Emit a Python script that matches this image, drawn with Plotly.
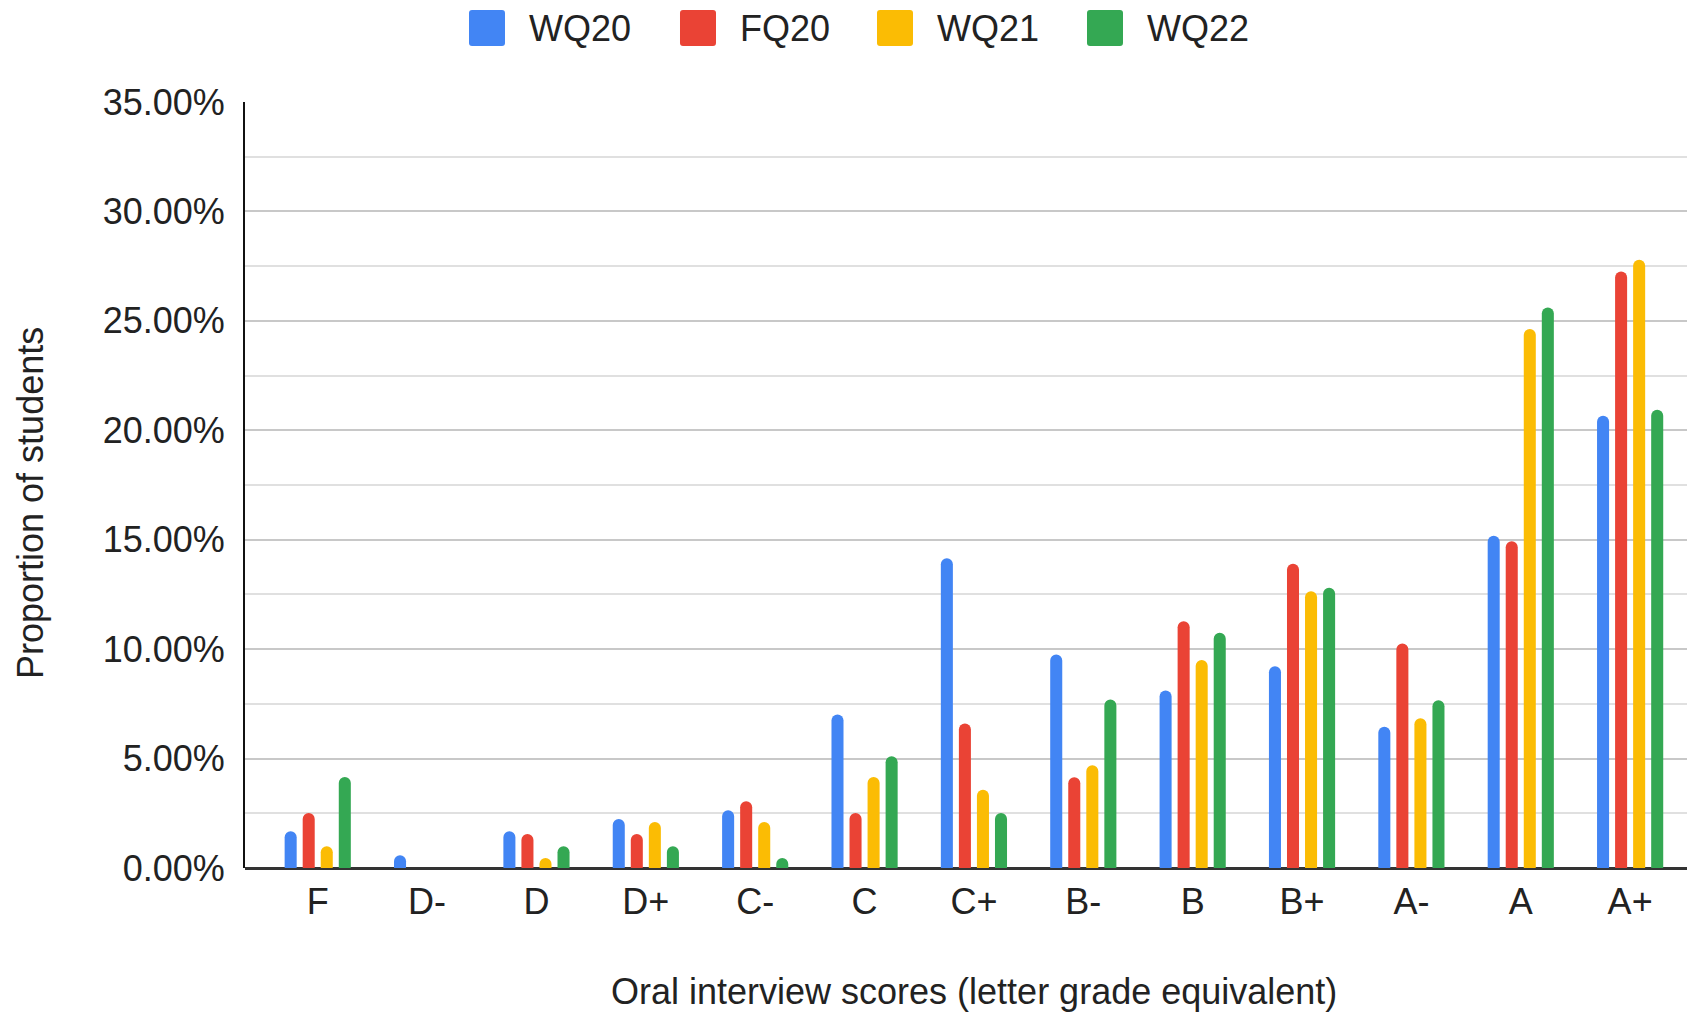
import plotly.graph_objects as go

grades = ["F", "D-", "D", "D+", "C-", "C", "C+", "B-", "B", "B+", "A-", "A", "A+"]
wq20 = [1.68, 0.58, 1.68, 2.24, 2.64, 7.01, 14.15, 9.76, 8.11, 9.22, 6.45, 15.18, 20.66]
fq20 = [2.51, 0.0, 1.55, 1.55, 3.05, 2.51, 6.60, 4.15, 11.28, 13.90, 10.26, 14.93, 27.26]
wq21 = [0.99, 0.0, 0.46, 2.10, 2.10, 4.16, 3.58, 4.70, 9.50, 12.65, 6.84, 24.63, 27.79]
wq22 = [4.16, 0.0, 0.99, 0.99, 0.46, 5.11, 2.51, 7.70, 10.75, 12.80, 7.66, 25.61, 20.94]

series_names = ["WQ20", "FQ20", "WQ21", "WQ22"]
series_values = [wq20, fq20, wq21, wq22]
colors = ["#4285F4", "#EA4335", "#FBBC04", "#34A853"]

W, H = 1687, 1016
ML, MR, MT, MB = 245, 0, 102, 148
PW, PH = W - ML - MR, H - MT - MB
FONT = "Arial, Liberation Sans, sans-serif"


def px_x(p):
    return (p - ML) / PW


def px_y(p):
    return (H - MB - p) / PH


def rounded_rect(x0, y0, x1, y1, r):
    # pixel coords -> paper path with rounded corners
    pts = [
        ("M", [(x0 + r, y0)]), ("L", [(x1 - r, y0)]), ("Q", [(x1, y0), (x1, y0 + r)]),
        ("L", [(x1, y1 - r)]), ("Q", [(x1, y1), (x1 - r, y1)]), ("L", [(x0 + r, y1)]),
        ("Q", [(x0, y1), (x0, y1 - r)]), ("L", [(x0, y0 + r)]), ("Q", [(x0, y0), (x0 + r, y0)]),
    ]
    s = ""
    for cmd, coords in pts:
        s += cmd + " " + " ".join(f"{px_x(a):.6f},{px_y(b):.6f}" for a, b in coords) + " "
    return s + "Z"


fig = go.Figure()
for name, vals, c in zip(series_names, series_values, colors):
    fig.add_trace(go.Bar(
        x=grades, y=[v / 100 for v in vals], name=name,
        marker=dict(color=c, cornerradius=6, line=dict(width=0)),
        showlegend=False,
    ))

# custom legend (large rounded squares like the reference)
legend_sq_x = [469, 680, 877, 1087]
shapes = []
annotations = []
for name, c, sx in zip(series_names, colors, legend_sq_x):
    shapes.append(dict(type="path", xref="paper", yref="paper",
                       path=rounded_rect(sx, 10, sx + 36, 46, 3),
                       fillcolor=c, line=dict(width=0), layer="above"))
    annotations.append(dict(text=name, xref="paper", yref="paper", x=px_x(sx + 58), y=px_y(28),
                            xanchor="left", yanchor="middle", showarrow=False,
                            font=dict(size=36, color="#222222", family=FONT)))

annotations.append(dict(text="Oral interview scores (letter grade equivalent)", xref="paper", yref="paper",
                        x=px_x(974), y=px_y(992), xanchor="center", yanchor="middle", showarrow=False,
                        font=dict(size=36, color="#222222", family=FONT)))
annotations.append(dict(text="Proportion of students", xref="paper", yref="paper",
                        x=px_x(30), y=px_y(503), xanchor="center", yanchor="middle", showarrow=False,
                        textangle=-90, font=dict(size=36, color="#222222", family=FONT)))

fig.update_layout(
    width=W, height=H,
    margin=dict(l=ML, r=MR, t=MT, b=MB, pad=0),
    paper_bgcolor="white", plot_bgcolor="white",
    barmode="group", bargap=0.34, bargroupgap=0.333,
    font=dict(family=FONT, size=36, color="#222222"),
    shapes=shapes, annotations=annotations,
    showlegend=False,
)
fig.update_xaxes(
    type="category", range=[-0.665, 12.52], showgrid=False, showline=False,
    zeroline=False, ticks="", ticklabelstandoff=9, tickfont=dict(size=36, color="#222222"),
)
fig.update_yaxes(
    range=[0, 0.35], dtick=0.05, tickformat=".2%", showgrid=True,
    gridcolor="#c8c8c8", gridwidth=2,
    minor=dict(dtick=0.025, showgrid=True, gridcolor="#e0e0e0", gridwidth=2),
    showline=True, linecolor="#111111", linewidth=2,
    zeroline=True, zerolinecolor="#333333", zerolinewidth=3,
    ticks="", ticklabelstandoff=11, tickfont=dict(size=36, color="#222222"),
)

fig.write_html(
    "out.html",
    config={"displayModeBar": False},
    post_script="document.body.style.margin='0';document.body.style.overflow='hidden';",
)
